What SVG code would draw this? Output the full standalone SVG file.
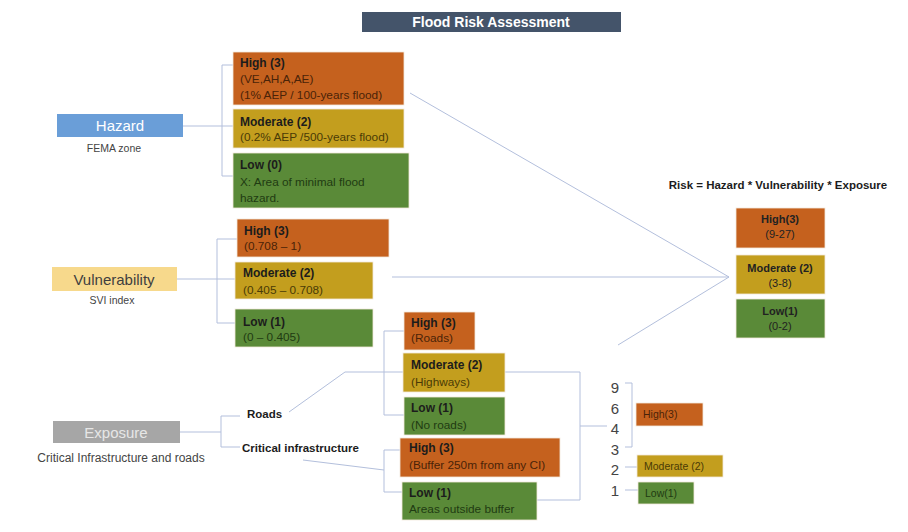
<svg xmlns="http://www.w3.org/2000/svg" width="908" height="532" viewBox="0 0 908 532">
<style>
text{font-family:"Liberation Sans",Arial,sans-serif;}
.bg{fill:#ffffff;}
.or{fill:#C5611E;}
.gd{fill:#C39E1E;}
.gr{fill:#5A8A38;}
.box{stroke:#f3e9dc;stroke-width:0.8;}
.t{font-size:12px;font-weight:bold;fill:#1c1c1c;}
.s{font-size:11.8px;}
.so{fill:#4a2308;}
.sg{fill:#4a3b06;}
.sgr{fill:#1f3b12;}
.cat{font-size:15px;text-anchor:middle;}
.cap{font-size:10.5px;fill:#444;text-anchor:middle;}
.lbl{font-size:11.5px;font-weight:bold;fill:#1c1c1c;}
.rk{font-size:11px;fill:#222;text-anchor:middle;}
.rkt{font-size:11px;font-weight:bold;fill:#222;text-anchor:middle;}
.num{font-size:15px;fill:#444;text-anchor:middle;}
.conn line,.conn polyline{stroke:#b3bfdc;stroke-width:1;fill:none;}
</style>
<rect class="bg" x="0" y="0" width="908" height="532"/>

<g id="title">
<rect x="362" y="12" width="259" height="20" fill="#44546A"/>
<text x="491" y="27" font-size="14" font-weight="bold" fill="#ffffff" text-anchor="middle">Flood Risk Assessment</text>
</g>

<g class="conn" id="connectors">
<line x1="183" y1="126" x2="233" y2="126"/>
<polyline points="233,65 222,65 222,176 233,176"/>
<line x1="177" y1="279" x2="235" y2="279"/>
<polyline points="237,239 217,239 217,323 235,323"/>
<line x1="180" y1="432" x2="221" y2="432"/>
<polyline points="240,416 221,416 221,447 240,447"/>
<polyline points="289,412 345,372 404,372"/>
<polyline points="404,331 384,331 384,415 404,415"/>
<line x1="303" y1="460" x2="384" y2="470"/>
<polyline points="400,450 384,450 384,492 402,492"/>
<polyline points="505,372 580,372 580,500 537,500"/>
<line x1="580" y1="426" x2="607" y2="426"/>
<polyline points="625,383 632,383 632,447 625,447"/>
<line x1="625" y1="467" x2="637" y2="467"/>
<line x1="625" y1="490" x2="638" y2="490"/>
<line x1="410" y1="93" x2="729" y2="277"/>
<line x1="392" y1="277" x2="729" y2="277"/>
<line x1="618" y1="345" x2="729" y2="277"/>
</g>

<g id="hazard">
<rect x="57" y="114" width="126" height="23" fill="#6A9ED8"/>
<text class="cat" x="120" y="131" fill="#ffffff">Hazard</text>
<text class="cap" x="114" y="152">FEMA zone</text>
</g>
<g id="hazard-high">
<rect class="or box" x="233" y="52" width="171" height="53"/>
<text class="t" x="240" y="67">High (3)</text>
<text class="s so" x="240" y="83">(VE,AH,A,AE)</text>
<text class="s so" x="240" y="99">(1% AEP / 100-years flood)</text>
</g>
<g id="hazard-moderate">
<rect class="gd box" x="233" y="109" width="171" height="39"/>
<text class="t" x="240" y="126">Moderate (2)</text>
<text class="s sg" x="240" y="141">(0.2% AEP /500-years flood)</text>
</g>
<g id="hazard-low">
<rect class="gr box" x="233" y="153" width="176" height="55"/>
<text class="t" x="240" y="169">Low (0)</text>
<text class="s sgr" x="240" y="186">X: Area of minimal flood</text>
<text class="s sgr" x="240" y="202">hazard.</text>
</g>

<g id="vulnerability">
<rect x="52" y="267" width="125" height="24" fill="#F7D98C"/>
<text class="cat" x="114" y="285" fill="#3f3f3f">Vulnerability</text>
<text class="cap" x="112" y="304" font-size="9.8">SVI index</text>
</g>
<g id="vulnerability-high">
<rect class="or box" x="237" y="219" width="152" height="38"/>
<text class="t" x="244" y="235">High (3)</text>
<text class="s so" x="244" y="250">(0.708 – 1)</text>
</g>
<g id="vulnerability-moderate">
<rect class="gd box" x="235" y="262" width="138" height="37"/>
<text class="t" x="243" y="277">Moderate (2)</text>
<text class="s sg" x="243" y="294">(0.405 – 0.708)</text>
</g>
<g id="vulnerability-low">
<rect class="gr box" x="235" y="309" width="138" height="38"/>
<text class="t" x="243" y="326">Low (1)</text>
<text class="s sgr" x="243" y="341">(0 – 0.405)</text>
</g>

<g id="exposure">
<rect x="53" y="421" width="127" height="22" fill="#A6A6A6"/>
<text class="cat" x="116" y="438" fill="#e6e6e6">Exposure</text>
<text x="121" y="462" font-size="12" fill="#444" text-anchor="middle">Critical Infrastructure and roads</text>
</g>
<g id="roads">
<text class="lbl" x="247" y="418">Roads</text>
</g>
<g id="critical-infrastructure">
<text class="lbl" x="242" y="452">Critical infrastructure</text>
</g>

<g id="roads-high">
<rect class="or box" x="404" y="312" width="71" height="38"/>
<text class="t" x="411" y="327">High (3)</text>
<text class="s so" x="411" y="342">(Roads)</text>
</g>
<g id="roads-moderate">
<rect class="gd box" x="403" y="353" width="102" height="39"/>
<text class="t" x="411" y="369">Moderate (2)</text>
<text class="s sg" x="411" y="386">(Highways)</text>
</g>
<g id="roads-low">
<rect class="gr box" x="404" y="397" width="101" height="38"/>
<text class="t" x="411" y="412">Low (1)</text>
<text class="s sgr" x="411" y="429">(No roads)</text>
</g>
<g id="ci-high">
<rect class="or box" x="400" y="438" width="160" height="39"/>
<text class="t" x="409" y="452">High (3)</text>
<text class="s so" x="409" y="469">(Buffer 250m from any CI)</text>
</g>
<g id="ci-low">
<rect class="gr box" x="402" y="482" width="135" height="38"/>
<text class="t" x="409" y="497">Low (1)</text>
<text class="s sgr" x="409" y="513">Areas outside buffer</text>
</g>

<g id="risk-formula">
<text x="778" y="189" font-size="11.5" font-weight="bold" fill="#1c1c1c" text-anchor="middle">Risk = Hazard * Vulnerability * Exposure</text>
</g>
<g id="risk-high">
<rect class="or box" x="736" y="208" width="89" height="40"/>
<text class="rkt" x="780" y="223">High(3)</text>
<text class="rk" x="780" y="238">(9-27)</text>
</g>
<g id="risk-moderate">
<rect class="gd box" x="736" y="255" width="89" height="39"/>
<text class="rkt" x="780" y="272">Moderate (2)</text>
<text class="rk" x="780" y="287">(3-8)</text>
</g>
<g id="risk-low">
<rect class="gr box" x="736" y="299" width="89" height="39"/>
<text class="rkt" x="780" y="315">Low(1)</text>
<text class="rk" x="780" y="330">(0-2)</text>
</g>

<g id="scores">
<text class="num" x="615" y="393">9</text>
<text class="num" x="615" y="414">6</text>
<text class="num" x="615" y="434">4</text>
<text class="num" x="615" y="455">3</text>
<text class="num" x="615" y="475">2</text>
<text class="num" x="615" y="496">1</text>
</g>
<g id="score-high">
<rect class="or box" x="636" y="403" width="67" height="23"/>
<text x="643" y="418" font-size="10.5" fill="#4a2308">High(3)</text>
</g>
<g id="score-moderate">
<rect class="gd box" x="637" y="455" width="86" height="22"/>
<text x="644" y="470" font-size="10.5" fill="#4a3b06">Moderate (2)</text>
</g>
<g id="score-low">
<rect class="gr box" x="638" y="482" width="56" height="22"/>
<text x="645" y="497" font-size="10.5" fill="#1f3b12">Low(1)</text>
</g>
</svg>
